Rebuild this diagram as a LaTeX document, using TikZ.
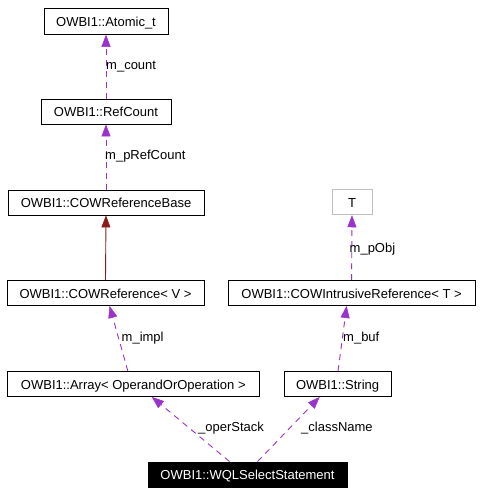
\documentclass[tikz,border=0pt]{standalone}
\usepackage{fontspec}
\setmainfont{Liberation Sans}
\usetikzlibrary{arrows.meta}
\definecolor{dep}{HTML}{9A32CD}
\definecolor{inh}{HTML}{8B1A1A}
\definecolor{grayb}{HTML}{BFBFBF}
\tikzset{
  cls/.style={draw=black, line width=0.9pt, fill=white, inner sep=0pt, minimum height=25pt,
    text height=10.3pt, text depth=0pt, font=\fontsize{13pt}{15pt}\selectfont},
  lbl/.style={anchor=base west, inner sep=0pt, font=\fontsize{13pt}{15pt}\selectfont},
  usage/.style={draw=dep, line width=0.9pt, dash pattern=on 6pt off 5pt,
    -{Triangle[length=12pt,width=9pt,fill=dep,line width=0.5pt,sep=0pt]}},
  inherit/.style={draw=inh, line width=0.9pt,
    -{Triangle[length=12pt,width=9pt,fill=inh,line width=0.5pt]}}
}
\begin{document}
\begin{tikzpicture}[x=1pt,y=-1pt]
\useasboundingbox (0,0) rectangle (480,493);
\node[cls, minimum width=124pt, minimum height=26pt] (atomic) at (106,21.3) {OWBI1::Atomic\_t};
\node[cls, minimum width=130pt] (refcount) at (106,111.5) {OWBI1::RefCount};
\node[cls, minimum width=196pt] (cowbase) at (106,202.5) {OWBI1::COWReferenceBase};
\node[cls, draw=grayb, minimum width=40pt] (t) at (352,202.3) {T};
\node[cls, minimum width=197pt] (cowref) at (105.5,293) {OWBI1::COWReference< V >};
\node[cls, minimum width=247pt] (cowint) at (351.6,293) {OWBI1::COWIntrusiveReference< T >};
\node[cls, minimum width=252pt] (arr) at (133.3,384) {OWBI1::Array< OperandOrOperation >};
\node[cls, minimum width=107pt] (str) at (337.6,384) {OWBI1::String};
\node[cls, fill=black, text=white, minimum width=199pt] (wql) at (247.5,474.5) {OWBI1::WQLSelectStatement};

\draw[usage] (refcount.north) -- (atomic.south);
\draw[usage] (cowbase.north) -- (refcount.south);
\draw[inherit] (cowref.north) -- (cowbase.south);
\draw[usage] (cowint.north) -- (t.south);
\draw[usage] ([xshift=121pt]arr.north west) -- ([xshift=103pt]cowref.south west);
\draw[usage] ([xshift=54.4pt]str.north west) -- ([xshift=119pt]cowint.south west);
\draw[usage] ([xshift=82pt]wql.north west) -- ([xshift=145pt]arr.south west);
\draw[usage] ([xshift=110pt]wql.north west) -- ([xshift=36pt]str.south west);

\node[lbl] (l1) at (106,69) {m\_count};
\node[lbl] (l2) at (105,159.5) {m\_pRefCount};
\node[lbl] (l3) at (349.5,252) {m\_pObj};
\node[lbl] (l4) at (121.5,341.5) {m\_impl};
\node[lbl] (l5) at (343,341.5) {m\_buf};
\node[lbl] (l6) at (198,431.5) {\_operStack};
\node[lbl] (l7) at (301,431.5) {\_className};
\end{tikzpicture}
\end{document}
